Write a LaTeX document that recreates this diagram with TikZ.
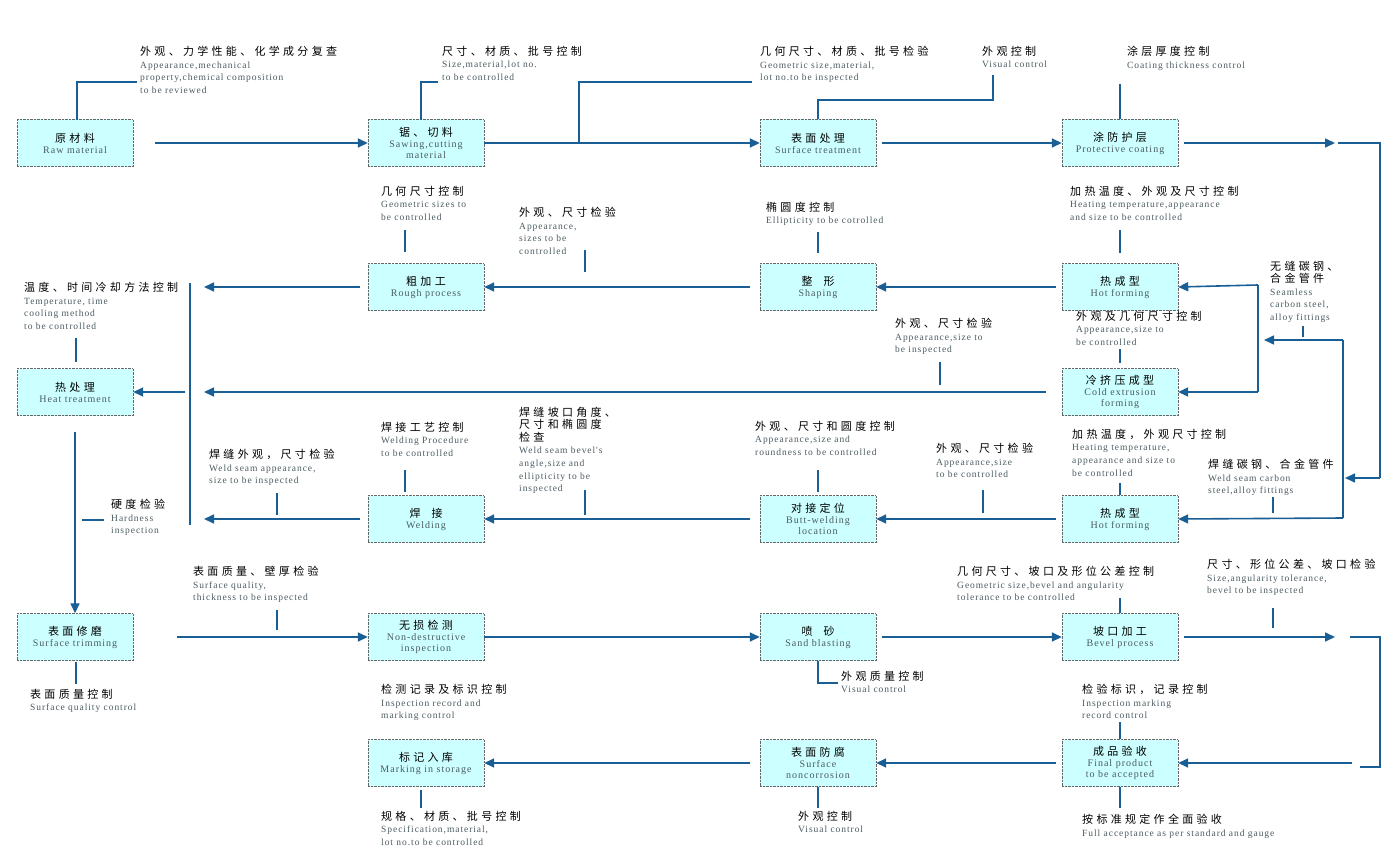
\documentclass[tikz,border=0pt]{standalone}
\usepackage{fontspec}
\setmainfont{Liberation Serif}
\newfontfamily\cjk[LetterSpace=30]{Noto Sans CJK SC}
\newfontfamily\enf[LetterSpace=10]{Liberation Serif}
\usetikzlibrary{arrows.meta,positioning}
\definecolor{flow}{HTML}{1A5E96}
\definecolor{boxfill}{HTML}{CCFFFF}
\definecolor{engray}{HTML}{4A5A60}
\tikzset{
  stage/.style={draw=gray!80!black,densely dotted,fill=boxfill,minimum width=116pt,
    minimum height=47pt,align=center,inner sep=1pt,font=\enf\fontsize{10}{11}\selectfont,text=engray},
  go/.style={draw=flow,line width=1.6pt,-{Triangle[length=10pt,width=9pt]}},
  wire/.style={draw=flow,line width=1.6pt},
  tick/.style={draw=flow,line width=1.1pt},
  lab/.style={anchor=north west,align=left,inner sep=0pt,text=engray,
    font=\enf\fontsize{9.5}{12.5}\selectfont}
}
\newcommand\cn[1]{{\cjk\fontsize{11}{12.5}\selectfont\color{black}#1}}
\newcommand\lab[4]{\node[lab] (#1) at (#2) {\cn{#3}\\#4};}
\begin{document}
\begin{tikzpicture}[x=1pt,y=-1pt]
\useasboundingbox (0,0) rectangle (1394,864);
% process steps
\node[stage] (raw)   at (75,143)   {\cn{原材料}\\Raw material};
\node[stage] (saw)   at (426,143)  {\cn{锯、切料}\\Sawing,cutting\\material};
\node[stage] (surf)  at (818,143)  {\cn{表面处理}\\Surface treatment};
\node[stage] (coat)  at (1120,143) {\cn{涂防护层}\\Protective coating};
\node[stage] (rough) at (426,287)  {\cn{粗加工}\\Rough process};
\node[stage] (shape) at (818,287)  {\cn{整\quad 形}\\Shaping};
\node[stage] (hot)   at (1120,287) {\cn{热成型}\\Hot forming};
\node[stage] (heat)  at (75,392)   {\cn{热处理}\\Heat treatment};
\node[stage] (cold)  at (1120,392) {\cn{冷挤压成型}\\Cold extrusion\\forming};
\node[stage] (weld)  at (426,519)  {\cn{焊\quad 接}\\Welding};
\node[stage] (butt)  at (818,519)  {\cn{对接定位}\\Butt-welding\\location};
\node[stage] (hotb)  at (1120,519) {\cn{热成型}\\Hot forming};
\node[stage] (trim)  at (75,637)   {\cn{表面修磨}\\Surface trimming};
\node[stage] (ndt)   at (426,637)  {\cn{无损检测}\\Non-destructive\\inspection};
\node[stage] (sand)  at (818,637)  {\cn{喷\quad 砂}\\Sand blasting};
\node[stage] (bevel) at (1120,637) {\cn{坡口加工}\\Bevel process};
\node[stage] (mark)  at (426,763)  {\cn{标记入库}\\Marking in storage};
\node[stage] (noncor) at (818,763) {\cn{表面防腐}\\Surface\\noncorrosion};
\node[stage] (final) at (1120,763) {\cn{成品验收}\\Final product\\to be accepted};
% free ends
\coordinate (barT) at (190,283);
\coordinate (barB) at (190,525);
\coordinate (r1) at (1380,143);
\coordinate (r2) at (1380,478);
\coordinate (m1) at (1343,340);
\coordinate (m2) at (1343,518);
\coordinate (n1) at (1258,285);
\coordinate (n2) at (1258,392);
\coordinate (b1) at (1350,637);
\coordinate (b2) at (1380,767);
% flow
\draw[go] ([xshift=22pt]raw.east) -- (saw.west);
\draw[go] (saw.east) -- (surf.west);
\draw[go] ([xshift=6pt]surf.east) -- (coat.west);
\draw[go] ([xshift=6pt]coat.east) -- (1335,143);
\draw[wire] (1338,143) -- (r1) -- (r2);
\draw[go] (r2) -- (1345,478);
\draw[go] (m1) -- (1264,340);
\draw[wire] (m1) -- (m2);
\draw[go] (m2) -- (hotb.east);
\draw[go] (n1) -- (hot.east);
\draw[wire] (n1) -- (n2);
\draw[go] (n2) -- (cold.east);
\draw[go] ([xshift=-6pt]hot.west) -- (shape.east);
\draw[go] ([xshift=-10pt]shape.west) -- (rough.east);
\draw[go] ([xshift=-8pt]rough.west) -- (204,287);
\draw[wire] (barT) -- (barB);
\draw[go] (185,392) -- (heat.east);
\draw[go] ([xshift=-16pt]cold.west) -- (204,392);
\draw[go] ([xshift=-6pt]hotb.west) -- (butt.east);
\draw[go] ([xshift=-10pt]butt.west) -- (weld.east);
\draw[go] ([xshift=-8pt]weld.west) -- (204,519);
\draw[go] ([yshift=-16pt]heat.south) -- (trim.north);
\draw[go] ([xshift=44pt]trim.east) -- (ndt.west);
\draw[go] (ndt.east) -- (sand.west);
\draw[go] ([xshift=6pt]sand.east) -- (bevel.west);
\draw[go] ([xshift=6pt]bevel.east) -- (1335,637);
\draw[wire] (b1) -- (1380,637) -- (b2) -- (1360,767);
\draw[go] (1352,763) -- (final.east);
\draw[go] ([xshift=-6pt]final.west) -- (noncor.east);
\draw[go] ([xshift=-10pt]noncor.west) -- (mark.east);
% inspection notes
\lab{la}{140,46}{外观、力学性能、化学成分复查}{Appearance,mechanical\\property,chemical composition\\to be reviewed}
\draw[tick] (77,120) -- (77,82) -- (137,82);
\lab{lb}{442,46}{尺寸、材质、批号控制}{Size,material,lot no.\\to be controlled}
\draw[tick] (421,120) -- (421,82) -- (438,82);
\lab{lc}{760,46}{几何尺寸、材质、批号检验}{Geometric size,material,\\lot no.to be inspected}
\draw[tick] (579,143) -- (579,82) -- (752,82);
\lab{ld}{982,46}{外观控制}{Visual control}
\draw[tick] (surf.north) -- (818,100) -- (993,100) -- (993,75);
\node[lab,anchor=north] (le) at (1186,46) {\cn{涂层厚度控制}\\Coating thickness control};
\draw[tick] (1120,84) -- (coat.north);
\lab{lf}{381,186}{几何尺寸控制}{Geometric sizes to\\be controlled}
\draw[tick] (405,230) -- (405,252);
\lab{lg}{519,207}{外观、尺寸检验}{Appearance,\\sizes to be\\controlled}
\draw[tick] (585,250) -- (585,272);
\lab{lh}{766,202}{椭圆度控制}{Ellipticity to be cotrolled}
\draw[tick] (818,232) -- (818,253);
\lab{li}{1070,186}{加热温度、外观及尺寸控制}{Heating temperature,appearance\\and size to be controlled}
\draw[tick] (1120,230) -- (1120,253);
\lab{lj}{24,282}{温度、时间冷却方法控制}{Temperature, time\\cooling method\\to be controlled}
\draw[tick] (76,338) -- (76,362);
\node[lab] (lk) at (1270,261) {\cn{无缝碳钢、}\\\cn{合金管件}\\Seamless\\carbon steel,\\alloy fittings};
\draw[tick] (1303,326) -- (1303,337);
\lab{ll}{1076,311}{外观及几何尺寸控制}{Appearance,size to\\be controlled}
\draw[tick] (1120,349) -- (1120,363);
\lab{lm}{895,318}{外观、尺寸检验}{Appearance,size to\\be inspected}
\draw[tick] (940,362) -- (940,385);
\lab{ln}{936,443}{外观、尺寸检验}{Appearance,size\\to be controlled}
\draw[tick] (983,490) -- (983,513);
\lab{lo}{755,421}{外观、尺寸和圆度控制}{Appearance,size and\\roundness to be controlled}
\draw[tick] (818,470) -- (818,492);
\node[lab] (lp) at (519,407) {\cn{焊缝坡口角度、}\\\cn{尺寸和椭圆度}\\\cn{检查}\\Weld seam bevel's\\angle,size and\\ellipticity to be\\inspected};
\draw[tick] (585,490) -- (585,515);
\lab{lq}{381,422}{焊接工艺控制}{Welding Procedure\\to be controlled}
\draw[tick] (405,470) -- (405,492);
\lab{lr}{209,449}{焊缝外观，尺寸检验}{Weld seam appearance,\\size to be inspected}
\draw[tick] (277,493) -- (277,515);
\lab{ls}{1072,429}{加热温度，外观尺寸控制}{Heating temperature,\\appearance and size to\\be controlled}
\draw[tick] (1120,483) -- (1120,495);
\lab{lt}{1208,459}{焊缝碳钢、合金管件}{Weld seam carbon\\steel,alloy fittings}
\draw[tick] (1273,497) -- (1273,513);
\lab{lu}{111,499}{硬度检验}{Hardness\\inspection}
\draw[tick] (82,520) -- (104,520);
\lab{lv}{193,566}{表面质量、壁厚检验}{Surface quality,\\thickness to be inspected}
\draw[tick] (277,610) -- (277,630);
\lab{lw}{30,689}{表面质量控制}{Surface quality control}
\draw[tick] (76,662) -- (76,684);
\lab{lx}{381,684}{检测记录及标识控制}{Inspection record and\\marking control}
\lab{ly}{841,671}{外观质量控制}{Visual control}
\draw[tick] (sand.south) -- (818,683) -- (838,683);
\lab{lz}{957,566}{几何尺寸、坡口及形位公差控制}{Geometric size,bevel and angularity\\tolerance to be controlled}
\draw[tick] (1120,598) -- (bevel.north);
\lab{lA}{1207,559}{尺寸、形位公差、坡口检验}{Size,angularity tolerance,\\bevel to be inspected}
\draw[tick] (1273,608) -- (1273,628);
\lab{lB}{1082,684}{检验标识，记录控制}{Inspection marking\\record control}
\draw[tick] (1120,722) -- (final.north);
\lab{lC}{1082,814}{按标准规定作全面验收}{Full acceptance as per standard and gauge}
\draw[tick] (final.south) -- (1120,808);
\lab{lD}{798,811}{外观控制}{Visual control}
\draw[tick] (noncor.south) -- (818,808);
\lab{lE}{381,811}{规格、材质、批号控制}{Specification,material,\\lot no.to be controlled}
\draw[tick] (421,790) -- (421,808);
\end{tikzpicture}
\end{document}
